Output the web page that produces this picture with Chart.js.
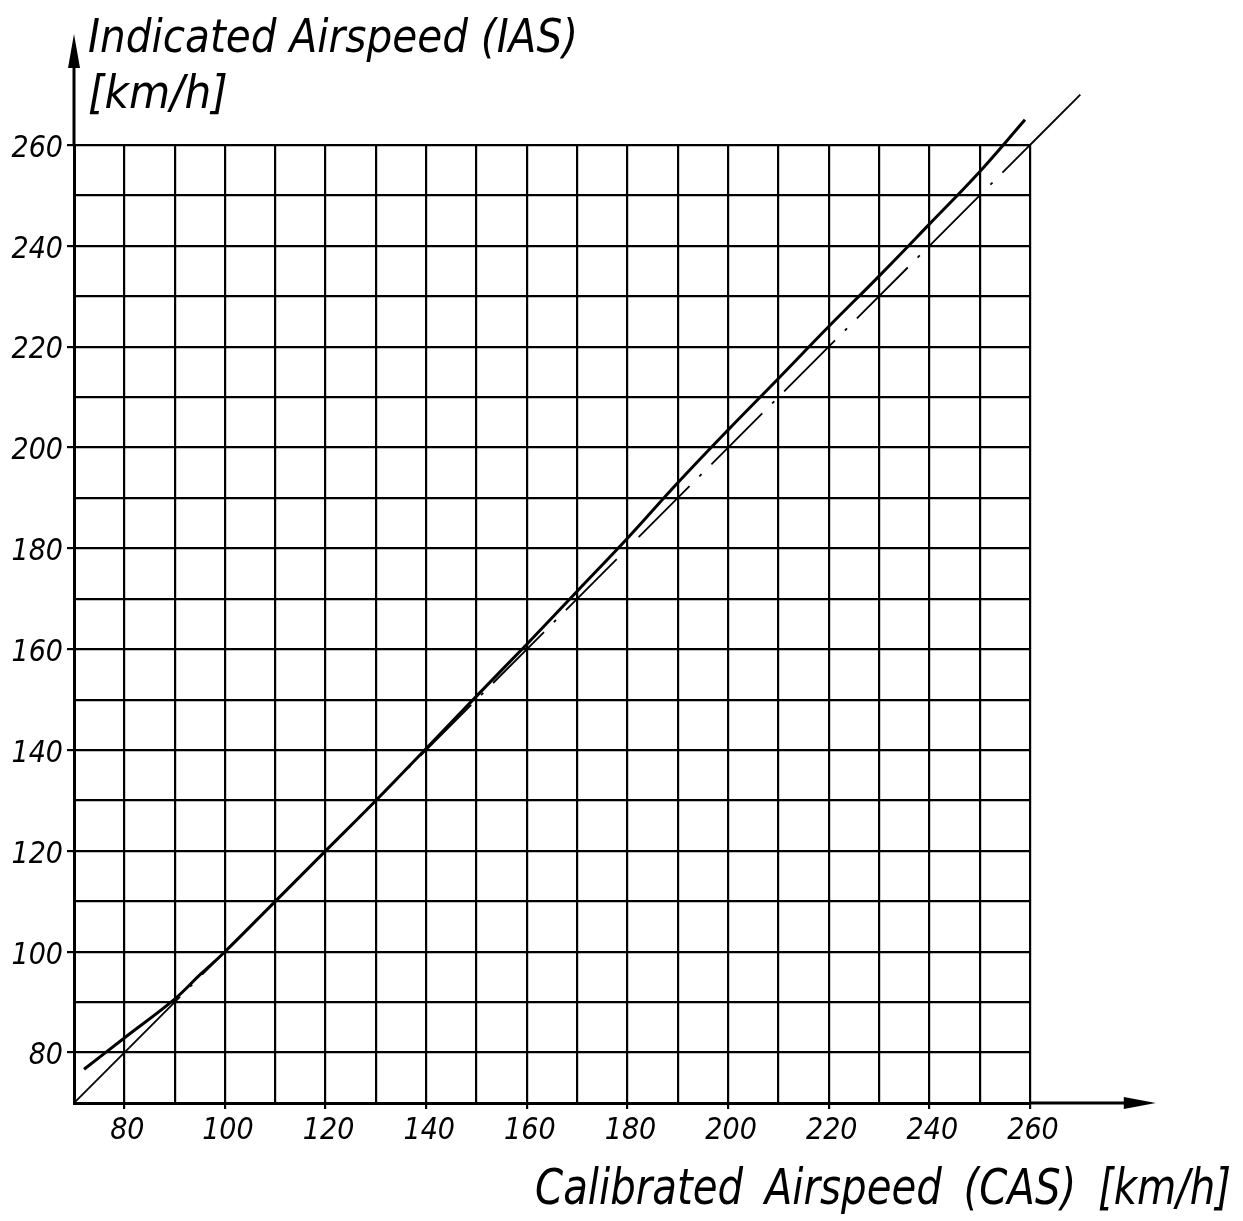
<!DOCTYPE html>
<html>
<head>
  <title>IAS vs CAS</title>
  <style>
    body { margin: 0; background: #fff; }
    #wrap { position: relative; width: 1243px; height: 1221px; }
  </style>
</head>
<body>
  <div id="wrap"><canvas id="chart"></canvas></div>

  <script src="https://cdn.jsdelivr.net/npm/chart.js"></script>
  <script>
    // calibration curve
    const casValues = [72, 80, 90, 95, 100, 110, 120, 130, 140, 150, 160, 170, 180, 190, 200, 210, 220, 230, 240, 250, 259];
    const iasValues = [76.7, 82.9, 90.6, 95.4, 100, 110, 120, 130, 140.3, 150.7, 161, 171.5, 182, 193, 203.5, 213.7, 224, 234, 244.3, 254.7, 265];

    // IAS = CAS reference line: solid stub, dash-dot part, solid extension
    const refLow = [70, 81];
    const refMid = [81, 260];
    const refHigh = [260, 270];

    const tickLabels = [80, 100, 120, 140, 160, 180, 200, 220, 240, 260];
    const xTitle = 'Calibrated Airspeed (CAS) [km/h]';
    const yTitle = ['Indicated Airspeed (IAS)', '[km/h]'];

    const FONT = "'Liberation Sans Narrow', 'DejaVu Sans Condensed', 'Liberation Sans', sans-serif";
    const pts = (xs, ys) => xs.map((x, i) => ({ x: x, y: ys[i] }));
    const labelled = c => c.tick && tickLabels.includes(Math.round(c.tick.value));

    // arrows on the axes and the two axis titles
    const axesDecor = {
      id: 'axesDecor',
      afterDraw(chart) {
        const ctx = chart.ctx;
        const xs = chart.scales.x, ys = chart.scales.y;
        const x0 = xs.getPixelForValue(70), y0 = ys.getPixelForValue(70);
        const xEnd = xs.getPixelForValue(285), yEnd = ys.getPixelForValue(282);
        ctx.save();
        ctx.strokeStyle = '#000';
        ctx.fillStyle = '#000';
        ctx.lineWidth = 3;
        ctx.beginPath();
        ctx.moveTo(xs.right, y0); ctx.lineTo(xEnd - 20, y0);
        ctx.moveTo(x0, ys.top); ctx.lineTo(x0, yEnd + 20);
        ctx.stroke();
        // arrowheads
        ctx.beginPath();
        ctx.moveTo(xEnd, y0); ctx.lineTo(xEnd - 32, y0 - 6); ctx.lineTo(xEnd - 32, y0 + 6); ctx.closePath();
        ctx.moveTo(x0, yEnd); ctx.lineTo(x0 - 6, yEnd + 34); ctx.lineTo(x0 + 6, yEnd + 34); ctx.closePath();
        ctx.fill();

        ctx.textAlign = 'left';
        ctx.textBaseline = 'alphabetic';
        ctx.font = 'italic 47px ' + FONT;
        ctx.fillText(yTitle[0], x0 + 14, 52, 490);
        ctx.fillText(yTitle[1], x0 + 14, 108, 140);
        ctx.font = 'italic 50px ' + FONT;
        ctx.wordSpacing = '10px';
        ctx.fillText(xTitle, 535, 1204, 696);
        ctx.restore();
      }
    };

    new Chart(document.getElementById('chart'), {
      type: 'scatter',
      data: {
        datasets: [
          {
            label: 'IAS',
            data: pts(casValues, iasValues),
            showLine: true,
            borderColor: '#000',
            borderWidth: 3,
            pointRadius: 0,
            tension: 0.4,
            clip: false
          },
          {
            label: 'ref low',
            data: pts(refLow, refLow),
            showLine: true,
            borderColor: '#000',
            borderWidth: 1.8,
            pointRadius: 0
          },
          {
            label: 'ref',
            data: pts(refMid, refMid),
            showLine: true,
            borderColor: '#000',
            borderWidth: 1.8,
            borderDash: [72, 14, 3, 14],
            pointRadius: 0
          },
          {
            label: 'ref high',
            data: pts(refHigh, refHigh),
            showLine: true,
            borderColor: '#000',
            borderWidth: 1.8,
            pointRadius: 0,
            clip: false
          }
        ]
      },
      options: {
        responsive: true,
        maintainAspectRatio: false,
        animation: false,
        layout: { padding: { left: 0, top: 145, right: 213, bottom: 0 } },
        plugins: {
          legend: { display: false },
          tooltip: { enabled: false }
        },
        scales: {
          x: {
            type: 'linear',
            min: 70,
            max: 260,
            afterFit: s => { s.height = 118; },
            border: { display: true, color: '#000', width: 3 },
            grid: { color: '#000', lineWidth: 2.2, tickLength: 6, tickWidth: 2.2, tickColor: c => labelled(c) ? '#000' : 'rgba(0,0,0,0)' },
            ticks: {
              stepSize: 10,
              autoSkip: false,
              maxRotation: 0,
              padding: 4,
              labelOffset: 3,
              color: '#000',
              font: { family: FONT, size: 30, style: 'italic' },
              callback: v => tickLabels.includes(v) ? String(v) : ''
            }
          },
          y: {
            type: 'linear',
            min: 70,
            max: 260,
            afterFit: s => { s.width = 74; },
            border: { display: true, color: '#000', width: 3 },
            grid: { color: '#000', lineWidth: 2.2, tickLength: 7, tickWidth: 2.2, tickColor: c => labelled(c) ? '#000' : 'rgba(0,0,0,0)' },
            ticks: {
              stepSize: 10,
              autoSkip: false,
              padding: 4,
              labelOffset: 4,
              color: '#000',
              font: { family: FONT, size: 30, style: 'italic' },
              callback: v => tickLabels.includes(v) ? String(v) : ''
            }
          }
        }
      },
      plugins: [axesDecor]
    });
  </script>
</body>
</html>
